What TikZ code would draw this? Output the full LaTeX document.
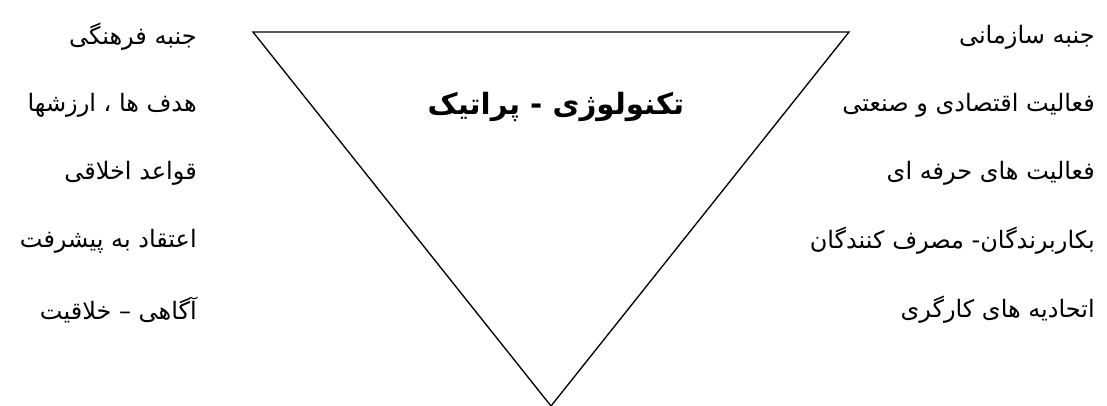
\documentclass[tikz,border=0pt]{standalone}
\usepackage{fontspec}
\newfontfamily\arabicfont[Script=Arabic]{DejaVu Sans}
\TeXXeTstate=1
\begin{document}
\begin{tikzpicture}[x=0.75pt,y=-0.75pt,
  lbl/.style={inner sep=0pt,font=\arabicfont\fontsize{18}{21}\selectfont},
  lft/.style={lbl,anchor=east},
  rgt/.style={lbl,anchor=east},
  ttl/.style={inner sep=0pt,font=\arabicfont\bfseries\fontsize{22}{26}\selectfont}]
\useasboundingbox (0,0) rectangle (1107,405);
\coordinate (tl) at (253,32);
\coordinate (tr) at (849,32);
\coordinate (bt) at (551,406);
\draw[line width=1pt, line join=miter] (tl) -- (tr) -- (bt) -- cycle;
\node[ttl] (title) at (556,107) {\beginR تکنولوژی - پراتیک\endR};
\node[lft] (l1) at (197,37) {\beginR جنبه فرهنگی\endR};
\node[lft] (l2) at (197,105) {\beginR هدف ها ، ارزشها\endR};
\node[lft] (l3) at (197,173) {\beginR قواعد اخلاقی\endR};
\node[lft] (l4) at (197,241) {\beginR اعتقاد به پیشرفت\endR};
\node[lft] (l5) at (197,310) {\beginR آگاهی – خلاقیت\endR};
\node[rgt] (r1) at (1095,37) {\beginR جنبه سازمانی\endR};
\node[rgt] (r2) at (1095,105) {\beginR فعالیت اقتصادی و صنعتی\endR};
\node[rgt] (r3) at (1095,173) {\beginR فعالیت های حرفه ای\endR};
\node[rgt] (r4) at (1095,241) {\beginR بکاربرندگان- مصرف کنندگان\endR};
\node[rgt] (r5) at (1095,310) {\beginR اتحادیه های کارگری\endR};
\end{tikzpicture}
\end{document}
